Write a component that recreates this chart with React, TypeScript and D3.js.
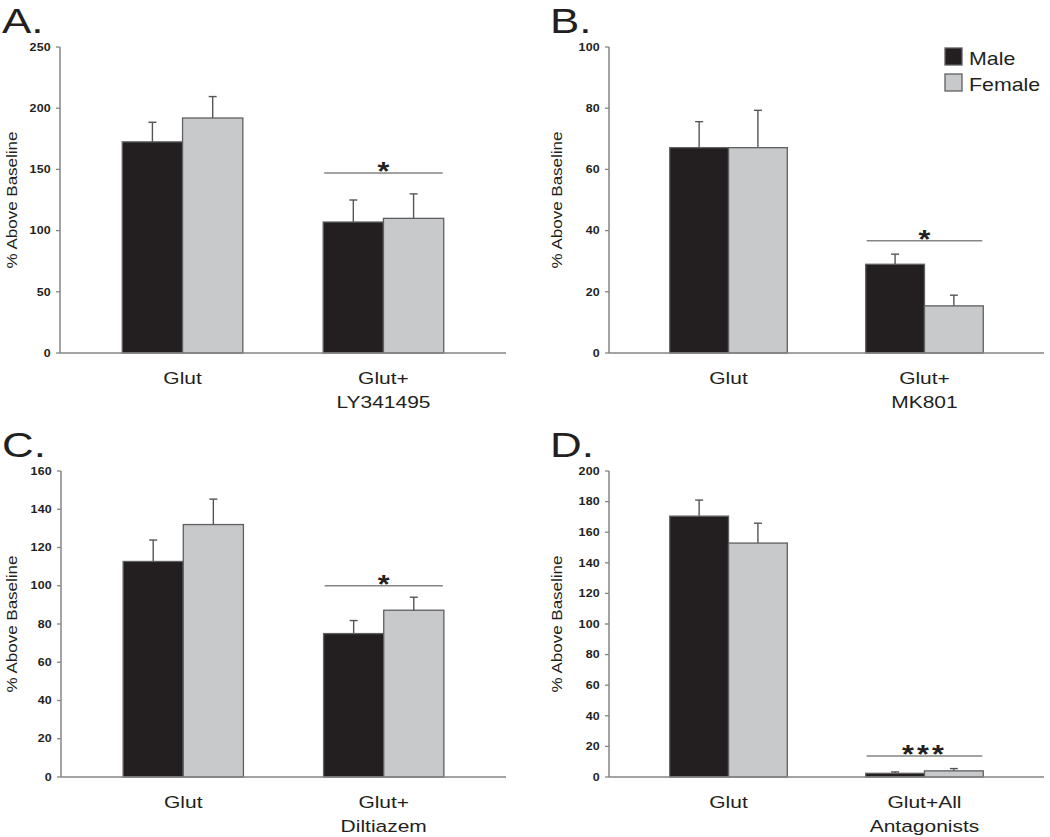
import React from "react";
import * as d3 from "d3";

// ---------- data ----------
const SERIES = ["Male", "Female"];
const PANEL_LETTERS = ["A.", "B.", "C.", "D."];

const GROUPS_A = [["Glut"], ["Glut+", "LY341495"]];
const MALE_A = [172.5, 107];
const MALE_ERR_A = [16, 18];
const FEMALE_A = [192, 110];
const FEMALE_ERR_A = [17.5, 20];
const TICKS_A = [0, 50, 100, 150, 200, 250];
const SIG_A = 147;
const STARS_A = "*";

const GROUPS_B = [["Glut"], ["Glut+", "MK801"]];
const MALE_B = [67.1, 29];
const MALE_ERR_B = [8.5, 3.3];
const FEMALE_B = [67.1, 15.4];
const FEMALE_ERR_B = [12.2, 3.5];
const TICKS_B = [0, 20, 40, 60, 80, 100];
const SIG_B = 36.7;
const STARS_B = "*";

const GROUPS_C = [["Glut"], ["Glut+", "Diltiazem"]];
const MALE_C = [112.7, 75];
const MALE_ERR_C = [11.2, 6.8];
const FEMALE_C = [132, 87.2];
const FEMALE_ERR_C = [13.3, 6.8];
const TICKS_C = [0, 20, 40, 60, 80, 100, 120, 140, 160];
const SIG_C = 100;
const STARS_C = "*";

const GROUPS_D = [["Glut"], ["Glut+All", "Antagonists"]];
const MALE_D = [170.5, 2.4];
const MALE_ERR_D = [10.5, 0.9];
const FEMALE_D = [152.9, 4.0];
const FEMALE_ERR_D = [13, 1.5];
const TICKS_D = [0, 20, 40, 60, 80, 100, 120, 140, 160, 180, 200];
const SIG_D = 13.7;
const STARS_D = "***";

// ---------- styles ----------
const FONT = "'Liberation Sans', Arial, Helvetica, sans-serif";
const SX = 1.22; // horizontal stretch of the original figure
const TEXT = "#231f20";
const AXIS = "#858585";
const MALE_FILL = "#231f20";
const FEMALE_FILL = "#c8c9cb";
const BAR_STROKE = "#5f5f61";
const ERR = "#555555";

const W = 1050;
const H = 837;

type PanelDef = {
  letter: string;
  groups: string[][];
  male: number[];
  maleErr: number[];
  female: number[];
  femaleErr: number[];
  ticks: number[];
  sig: number;
  stars: string;
  left: number;
  right: number;
  top: number;
  bottom: number;
  legend?: boolean;
};

const PANELS: PanelDef[] = [
  { letter: PANEL_LETTERS[0], groups: GROUPS_A, male: MALE_A, maleErr: MALE_ERR_A, female: FEMALE_A, femaleErr: FEMALE_ERR_A, ticks: TICKS_A, sig: SIG_A, stars: STARS_A, left: 60, right: 506, top: 47, bottom: 353 },
  { letter: PANEL_LETTERS[1], groups: GROUPS_B, male: MALE_B, maleErr: MALE_ERR_B, female: FEMALE_B, femaleErr: FEMALE_ERR_B, ticks: TICKS_B, sig: SIG_B, stars: STARS_B, left: 609, right: 1044, top: 47, bottom: 353, legend: true },
  { letter: PANEL_LETTERS[2], groups: GROUPS_C, male: MALE_C, maleErr: MALE_ERR_C, female: FEMALE_C, femaleErr: FEMALE_ERR_C, ticks: TICKS_C, sig: SIG_C, stars: STARS_C, left: 61, right: 506, top: 471, bottom: 777 },
  { letter: PANEL_LETTERS[3], groups: GROUPS_D, male: MALE_D, maleErr: MALE_ERR_D, female: FEMALE_D, femaleErr: FEMALE_ERR_D, ticks: TICKS_D, sig: SIG_D, stars: STARS_D, left: 609, right: 1044, top: 471, bottom: 777 },
];

function T(props: {
  x: number;
  y: number;
  size: number;
  anchor?: string;
  weight?: string | number;
  spacing?: number;
  children: React.ReactNode;
}) {
  const { x, y, size, anchor = "start", weight = "normal", spacing = 0, children } = props;
  return (
    <text
      transform={`translate(${x},${y}) scale(${SX},1)`}
      fontSize={size}
      fontFamily={FONT}
      fontWeight={weight}
      textAnchor={anchor}
      letterSpacing={spacing}
      fill={TEXT}
    >
      {children}
    </text>
  );
}

function Panel({ p }: { p: PanelDef }) {
  const keys = p.groups.map((g) => g.join(" "));
  const x0 = d3.scaleBand<string>().domain(keys).range([p.left, p.right]).paddingInner(0.4).paddingOuter(0.31);
  const x1 = d3.scaleBand<string>().domain(SERIES).range([0, x0.bandwidth()]).padding(0);
  const yMax = p.ticks[p.ticks.length - 1];
  const y = d3.scaleLinear().domain([0, yMax]).range([p.bottom, p.top]);

  const bars = keys.flatMap((k, i) => [
    { k, s: SERIES[0], v: p.male[i], e: p.maleErr[i], fill: MALE_FILL },
    { k, s: SERIES[1], v: p.female[i], e: p.femaleErr[i], fill: FEMALE_FILL },
  ]);

  const isLeft = p.left < 300;
  const letterX = isLeft ? 2 : 550;
  const letterY = p.top - 14;
  const titleX = isLeft ? 17 : 562;
  const sigKey = keys[1];
  const sigX0 = x0(sigKey)!;
  const sigX1 = sigX0 + x0.bandwidth();
  const sigY = y(p.sig);

  return (
    <g>
      {/* panel letter */}
      <T x={letterX} y={letterY} size={36}>{p.letter}</T>

      {/* bars */}
      {bars.map((b, i) => {
        const bx = x0(b.k)! + x1(b.s)!;
        const bw = x1.bandwidth();
        const cx = bx + bw / 2;
        return (
          <g key={i}>
            <line x1={cx} x2={cx} y1={y(b.v)} y2={y(b.v + b.e)} stroke={ERR} strokeWidth={1.4} />
            <line x1={cx - 4} x2={cx + 4} y1={y(b.v + b.e)} y2={y(b.v + b.e)} stroke={ERR} strokeWidth={1.4} />
            <rect x={bx} y={y(b.v)} width={bw} height={y(0) - y(b.v)} fill={b.fill} stroke={BAR_STROKE} strokeWidth={1.3} />
          </g>
        );
      })}

      {/* y axis */}
      <line x1={p.left} x2={p.left} y1={y(yMax)} y2={y(0)} stroke={AXIS} strokeWidth={1.5} />
      {p.ticks.map((t) => (
        <g key={t}>
          <line x1={p.left - 4} x2={p.left} y1={y(t)} y2={y(t)} stroke={AXIS} strokeWidth={1.3} />
          <T x={p.left - 9} y={y(t) + 3.7} size={10.2} anchor="end" weight="bold" spacing={0.2}>
            {t}
          </T>
        </g>
      ))}
      {/* x axis */}
      <line x1={p.left} x2={p.right} y1={y(0)} y2={y(0)} stroke={AXIS} strokeWidth={1.5} />

      {/* group labels */}
      {keys.map((k, i) => {
        const cx = x0(k)! + x0.bandwidth() / 2;
        return p.groups[i].map((line, j) => (
          <T key={k + j} x={cx} y={y(0) + 31 + j * 23.5} size={17.2} anchor="middle">
            {line}
          </T>
        ));
      })}

      {/* y title */}
      <text
        transform={`translate(${titleX},${(p.top + p.bottom) / 2}) scale(${SX},1) rotate(-90)`}
        fontSize={11.5}
        fontFamily={FONT}
        textAnchor="middle"
        fill={TEXT}
        textLength={137}
        lengthAdjust="spacingAndGlyphs"
      >
        % Above Baseline
      </text>

      {/* significance */}
      <line x1={sigX0 + 1} x2={sigX1 - 1} y1={sigY} y2={sigY} stroke={AXIS} strokeWidth={1.5} />
      <T x={(sigX0 + sigX1) / 2} y={sigY + 7} size={25} anchor="middle" weight="bold" spacing={p.stars.length > 1 ? 2.5 : 0}>
        {p.stars}
      </T>

      {/* legend */}
      {p.legend &&
        SERIES.map((s, i) => (
          <g key={s}>
            <rect x={945} y={48 + i * 26} width={17} height={17} fill={i === 0 ? MALE_FILL : FEMALE_FILL} stroke={BAR_STROKE} strokeWidth={1.3} />
            <T x={969} y={65 + i * 26} size={17.5}>
              {s}
            </T>
          </g>
        ))}
    </g>
  );
}

export default function App() {
  return (
    <svg
      width={W}
      height={H}
      viewBox={`0 0 ${W} ${H}`}
      style={{ position: "absolute", left: 0, top: 0, background: "#fff" }}
    >
      <rect x={0} y={0} width={W} height={H} fill="#fff" />
      {PANELS.map((p) => (
        <Panel key={p.letter} p={p} />
      ))}
    </svg>
  );
}
